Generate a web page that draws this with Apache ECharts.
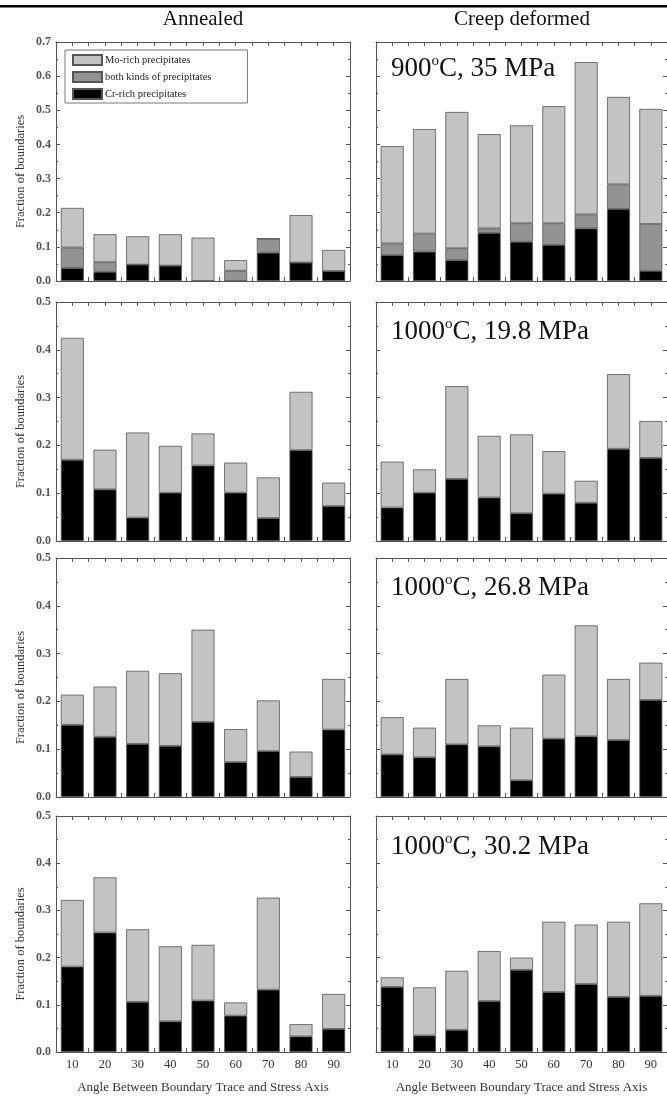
<!DOCTYPE html>
<html>
<head>
<meta charset="utf-8">
<script src="https://cdn.jsdelivr.net/npm/echarts@6/dist/echarts.min.js"></script>
<style>
  html, body { margin: 0; padding: 0; background: #fff; }
  #chart { width: 667px; height: 1098px; }
</style>
</head>
<body>
<div id="chart"></div>
<script>
// angle bins (deg)
var angles = ['10', '20', '30', '40', '50', '60', '70', '80', '90'];

// row 1 : 900oC, 35 MPa
var annCr1   = [0.038, 0.027, 0.048, 0.045, 0, 0, 0.083, 0.054, 0.029];
var annBoth1 = [0.060, 0.028, 0, 0, 0, 0.030, 0.041, 0, 0];
var annMo1   = [0.116, 0.082, 0.083, 0.092, 0.127, 0.031, 0, 0.139, 0.062];
var crpCr1   = [0.076, 0.086, 0.061, 0.141, 0.115, 0.106, 0.154, 0.211, 0.030];
var crpBoth1 = [0.034, 0.053, 0.035, 0.013, 0.054, 0.063, 0.041, 0.072, 0.137];
var crpMo1   = [0.285, 0.306, 0.399, 0.276, 0.287, 0.343, 0.446, 0.256, 0.337];

// row 2 : 1000oC, 19.8 MPa
var annCr2 = [0.170, 0.108, 0.049, 0.101, 0.158, 0.101, 0.048, 0.190, 0.073];
var annMo2 = [0.255, 0.083, 0.178, 0.098, 0.067, 0.063, 0.085, 0.122, 0.049];
var crpCr2 = [0.070, 0.101, 0.130, 0.091, 0.058, 0.099, 0.080, 0.193, 0.174];
var crpMo2 = [0.096, 0.049, 0.194, 0.129, 0.165, 0.089, 0.046, 0.156, 0.077];

// row 3 : 1000oC, 26.8 MPa
var annCr3 = [0.151, 0.126, 0.111, 0.107, 0.157, 0.073, 0.096, 0.042, 0.141];
var annMo3 = [0.063, 0.105, 0.153, 0.152, 0.193, 0.069, 0.106, 0.053, 0.106];
var crpCr3 = [0.089, 0.083, 0.110, 0.106, 0.035, 0.122, 0.127, 0.119, 0.203];
var crpMo3 = [0.078, 0.062, 0.137, 0.044, 0.110, 0.134, 0.232, 0.128, 0.078];

// row 4 : 1000oC, 30.2 MPa
var annCr4 = [0.181, 0.253, 0.106, 0.065, 0.109, 0.077, 0.132, 0.033, 0.049];
var annMo4 = [0.141, 0.117, 0.154, 0.159, 0.118, 0.028, 0.195, 0.026, 0.074];
var crpCr4 = [0.138, 0.035, 0.047, 0.108, 0.174, 0.127, 0.144, 0.117, 0.119];
var crpMo4 = [0.020, 0.102, 0.125, 0.106, 0.026, 0.149, 0.126, 0.159, 0.196];

var yMax = [0.7, 0.5, 0.5, 0.5];
var rowLabels = [['900', 'C, 35 MPa'], ['1000', 'C, 19.8 MPa'], ['1000', 'C, 26.8 MPa'], ['1000', 'C, 30.2 MPa']];
var colTitles = ['Annealed', 'Creep deformed'];

var panels = [
  { col: 0, row: 0, cr: annCr1, both: annBoth1, mo: annMo1 },
  { col: 1, row: 0, cr: crpCr1, both: crpBoth1, mo: crpMo1 },
  { col: 0, row: 1, cr: annCr2, mo: annMo2 },
  { col: 1, row: 1, cr: crpCr2, mo: crpMo2 },
  { col: 0, row: 2, cr: annCr3, mo: annMo3 },
  { col: 1, row: 2, cr: crpCr3, mo: crpMo3 },
  { col: 0, row: 3, cr: annCr4, mo: annMo4 },
  { col: 1, row: 3, cr: crpCr4, mo: crpMo4 }
];

var FONT = '"Liberation Serif", "DejaVu Serif", serif';
var colLeft = [56, 376];
var colWidth = 294;
var rowTop = [42, 302, 558, 816];
var rowHeight = [239, 239, 239, 236];
var labelY = [69, 332, 588, 847];

var MO = 'Mo-rich precipitates', BOTH = 'both kinds of precipitates', CR = 'Cr-rich precipitates';
var colors = {};
colors[MO] = '#c3c3c3';
colors[BOTH] = '#939393';
colors[CR] = '#000000';

var chart = echarts.init(document.getElementById('chart'), null, { renderer: 'canvas' });

var grid = [], xAxis = [], yAxis = [], series = [], graphic = [];

panels.forEach(function (p, i) {
  var bottomRow = p.row === 3;
  grid.push({ left: colLeft[p.col], top: rowTop[p.row], width: colWidth, height: rowHeight[p.row] });

  var axLine = { show: true, onZero: false, lineStyle: { color: '#555', width: 1 } };
  var tickStyle = { color: '#555', width: 1 };
  // bottom: the bars' own category axis, ticks on bin edges
  xAxis.push({
    type: 'category', gridIndex: i, data: angles, position: 'bottom',
    axisLine: axLine,
    axisTick: { show: true, inside: true, length: 4, interval: 0, lineStyle: tickStyle },
    axisLabel: { show: bottomRow, interval: 0, margin: 6, fontFamily: FONT, fontSize: 12.5, color: '#333' },
    splitLine: { show: false },
    name: bottomRow ? 'Angle Between Boundary Trace and Stress Axis' : '',
    nameLocation: 'middle', nameGap: 29,
    nameTextStyle: { fontFamily: FONT, fontSize: 13, color: '#333' }
  });
  // top frame: ticks at bin centres and edges
  xAxis.push({
    type: 'value', gridIndex: i, min: 0, max: angles.length, interval: 0.5, position: 'top',
    axisLine: axLine,
    axisTick: { show: true, inside: true, length: 4, lineStyle: tickStyle },
    axisLabel: { show: false },
    splitLine: { show: false }
  });
  var yCommon = {
    type: 'value', gridIndex: i, min: 0, max: yMax[p.row], interval: 0.1,
    axisLine: axLine,
    axisTick: { show: true, inside: true, length: 4, lineStyle: tickStyle },
    minorTick: { show: true, splitNumber: 2, length: 2, lineStyle: tickStyle },
    splitLine: { show: false }
  };
  yAxis.push(Object.assign({}, yCommon, {
    position: 'left',
    axisLabel: {
      show: p.col === 0, margin: 5, fontFamily: FONT, fontSize: 12, fontWeight: 'bold', color: '#555',
      formatter: function (v) { return v.toFixed(1); }
    }
  }));
  yAxis.push(Object.assign({}, yCommon, { position: 'right', axisLabel: { show: false } }));

  var stackParts = [[CR, p.cr]];
  if (p.both) stackParts.push([BOTH, p.both]);
  stackParts.push([MO, p.mo]);
  stackParts.forEach(function (part) {
    series.push({
      type: 'bar', name: part[0], xAxisIndex: 2 * i, yAxisIndex: 2 * i,
      stack: 'panel' + i, barWidth: 23,
      itemStyle: { color: colors[part[0]], borderColor: '#555', borderWidth: 0.8 },
      data: part[1]
    });
  });

  if (p.col === 0) {
    graphic.push({
      type: 'text', x: 21, y: rowTop[p.row] + rowHeight[p.row] / 2 + 10, rotation: Math.PI / 2,
      style: { text: 'Fraction of boundaries', font: '12.5px ' + FONT, fill: '#333', align: 'center', verticalAlign: 'middle' }
    });
  } else {
    var lab = rowLabels[p.row];
    graphic.push({
      type: 'text', x: 391, y: labelY[p.row],
      style: {
        text: '{n|' + lab[0] + '}{s|o}{n|' + lab[1] + '}',
        verticalAlign: 'middle', fill: '#111',
        rich: {
          n: { fontFamily: FONT, fontSize: 27, lineHeight: 30, fill: '#111' },
          s: { fontFamily: FONT, fontSize: 15, lineHeight: 15, verticalAlign: 'top', fill: '#111' }
        }
      }
    });
  }
});

// column titles and top rule
graphic.push({ type: 'rect', shape: { x: 0, y: 5, width: 667, height: 2.5 }, style: { fill: '#000' } });
graphic.push({ type: 'text', x: 203, y: 19, style: { text: colTitles[0], font: '21px ' + FONT, fill: '#111', align: 'center', verticalAlign: 'middle' } });
graphic.push({ type: 'text', x: 522, y: 19, style: { text: colTitles[1], font: '21px ' + FONT, fill: '#111', align: 'center', verticalAlign: 'middle' } });

var option = {
  animation: false,
  backgroundColor: '#fff',
  legend: {
    data: [MO, BOTH, CR],
    orient: 'vertical', left: 65, top: 50,
    icon: 'rect',
    itemWidth: 29, itemHeight: 10, itemGap: 5,
    padding: [4, 36, 3, 7],
    borderColor: '#777', borderWidth: 1,
    selectedMode: false,
    textStyle: { fontFamily: FONT, fontSize: 10.5, color: '#222', padding: [0, 0, 0, -2] }
  },
  grid: grid,
  xAxis: xAxis,
  yAxis: yAxis,
  series: series,
  graphic: graphic
};

chart.setOption(option);
</script>
</body>
</html>
